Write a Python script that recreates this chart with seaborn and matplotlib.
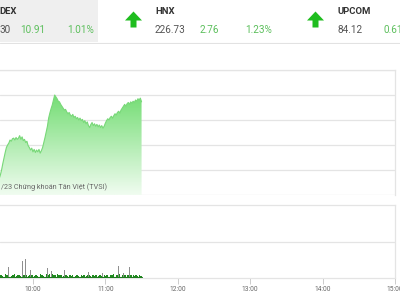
import numpy as np
import pandas as pd
import matplotlib
matplotlib.use("Agg")
import matplotlib.pyplot as plt
from matplotlib.patches import Rectangle
import seaborn as sns

sns.set_style("white")
plt.rcParams['font.family'] = ['Roboto', 'DejaVu Sans']

# ---------------- data ----------------
times = pd.date_range("2023-11-10 09:32", "2023-11-10 11:30", freq="min")

index_values = [
    1078.6, 1079.2, 1080.0, 1081.0, 1081.9, 1082.8, 1083.6, 1084.0, 1084.3, 1084.8,
    1084.6, 1085.0, 1085.1, 1084.8, 1085.2, 1084.9, 1085.1, 1085.5, 1084.9, 1085.3,
    1084.7, 1084.9, 1084.4, 1084.6, 1083.9, 1083.6, 1083.2, 1083.5,
    1082.9, 1083.3, 1082.8, 1083.2, 1082.9, 1083.3, 1082.7, 1083.1, 1083.6, 1084.4,
    1085.2, 1086.1, 1087.0, 1088.3, 1089.1, 1089.8, 1090.4, 1091.2, 1092.0, 1091.7,
    1091.4, 1091.0, 1090.9, 1090.5, 1090.2, 1089.9, 1089.6, 1089.7, 1089.3, 1089.0,
    1089.2, 1088.8, 1088.6, 1088.9, 1088.4, 1088.6, 1088.2, 1088.4, 1088.0, 1088.3,
    1087.9, 1088.1, 1087.6, 1087.9, 1087.4, 1087.7, 1087.1, 1086.8, 1087.3, 1087.6,
    1087.1, 1087.4, 1087.0, 1087.3, 1086.9, 1087.2, 1086.8, 1087.1, 1086.7, 1087.0,
    1087.5, 1087.9, 1088.2, 1088.0, 1088.4, 1088.6, 1088.3, 1088.7, 1089.0, 1088.8,
    1089.2, 1089.4, 1089.1, 1089.6, 1089.9, 1090.2, 1090.5, 1090.2, 1090.6, 1090.8,
    1090.5, 1090.9, 1090.7, 1091.0, 1090.8, 1091.2, 1091.0, 1091.4, 1091.2, 1091.5,
    1090.9,
]

volumes = [
    0.4, 0.35, 0.45, 0.3, 0.4, 0.5, 0.35, 0.4, 1.5, 0.45,
    0.3, 0.4, 0.35, 0.5, 0.3, 0.45, 0.4, 0.35, 0.3, 2.3,
    0.4, 0.35, 2.6, 0.45, 0.3, 0.4, 1.1, 0.35, 0.4, 0.3,
    0.45, 0.35, 0.3, 0.4, 0.5, 0.35, 0.45, 0.3, 0.4, 0.5,
    1.4, 0.45, 0.6, 1.0, 0.5, 0.4, 0.45, 0.35, 0.5, 0.4,
    0.35, 0.45, 0.4, 0.3, 1.1, 0.4, 0.35, 0.3, 0.4, 0.35,
    0.3, 0.4, 0.35, 0.3, 0.45, 0.35, 0.3, 0.4, 0.35, 0.3,
    0.4, 0.35, 0.3, 0.45, 0.8, 0.35, 0.3, 0.4, 0.35, 0.3,
    0.35, 0.4, 0.3, 0.35, 0.45, 0.3, 0.7, 0.35, 0.3, 0.4,
    0.35, 0.3, 0.45, 0.4, 0.35, 0.5, 0.4, 0.35, 0.45, 1.6,
    0.5, 0.4, 0.45, 0.7, 0.4, 0.35, 0.45, 0.4, 1.5, 0.45,
    0.4, 0.35, 0.3, 0.4, 0.35, 0.3, 0.35, 0.3, 0.25,
]

tick_hours = [10, 11, 12, 13, 14, 15]
tick_labels = ["10:00", "11:00", "12:00", "13:00", "14:00", "15:00"]

header_names = ["DEX", "HNX", "UPCOM"]
header_values = ["30", "226.73", "84.12"]
header_changes = ["10.91", "2.76", "0.61"]
header_pcts = ["1.01%", "1.23%", "0.61%"]

# ---------------- figure ----------------
W, H = 400, 300
fig = plt.figure(figsize=(4, 3), dpi=100)
fig.patch.set_facecolor("white")

def px_axes(x0, y0, x1, y1):
    return fig.add_axes([x0 / W, 1 - y1 / H, (x1 - x0) / W, (y1 - y0) / H])

hours = times.hour + times.minute / 60.0
df = pd.DataFrame({"h": hours, "v": index_values, "vol": volumes})

XMIN, XMAX = 9.545, 15.0
YMIN, YMAX = 1076, 1096
grid_c = "#e4e4e4"

# ---- header ----
hdr = px_axes(0, 0, 400, 44)
hdr.set_xlim(0, 400)
hdr.set_ylim(44, 0)
hdr.axis("off")
hdr.add_patch(Rectangle((0, 0), 98, 42, color="#efefef", lw=0))
hdr.axhline(42.5, color="#e2e2e2", lw=0.8)
green_txt = "#5cbf5c"
dark = "#333333"
mid = "#555555"
arrow_c = "#1fbd1f"

name_x = [-1, 155, 337]
val_x = [-1, 155, 337]
chg_x = [20, 200, 384]
pct_x = [67, 245, None]
arrow_x = [None, 133.5, 315.5]
for i in range(3):
    hdr.text(name_x[i], 11, header_names[i], fontsize=6.8, fontweight="bold", color=dark,
             va="center", ha="left")
    hdr.text(val_x[i], 30, header_values[i], fontsize=7.2, color=mid, va="center", ha="left")
    hdr.text(chg_x[i], 30, header_changes[i], fontsize=7.2, color=green_txt, va="center", ha="left")
    if pct_x[i] is not None:
        hdr.text(pct_x[i], 30, header_pcts[i], fontsize=7.2, color=green_txt, va="center", ha="left")
    if arrow_x[i] is not None:
        hdr.arrow(arrow_x[i], 27.5, 0, -7.0, width=6.0, head_width=17, head_length=9,
                  color=arrow_c, lw=0, length_includes_head=False)

# ---- main price chart ----
ax = px_axes(0, 70, 395, 195)
ax.set_xlim(XMIN, XMAX)
ax.set_ylim(YMIN, YMAX)
ax.set_yticks(np.arange(YMIN, YMAX + 1, 4))
ax.set_xticks([])
ax.tick_params(left=False, labelleft=False)
ax.grid(axis="y", color=grid_c, lw=0.9)
for s in ["left", "bottom"]:
    ax.spines[s].set_visible(False)
for s in ["top", "right"]:
    ax.spines[s].set_color(grid_c)
    ax.spines[s].set_linewidth(0.9)

poly = ax.fill_between(df["h"], df["v"], YMIN, color="none", lw=0)
grad = np.zeros((100, 1, 4))
top_c = np.array([112, 220, 112]) / 255
bot_c = np.array([240, 252, 240]) / 255
for i in range(100):
    f = i / 99.0
    grad[i, 0, :3] = top_c * (1 - f) + bot_c * f
    grad[i, 0, 3] = 1
im = ax.imshow(grad, extent=[df["h"].min(), df["h"].max(), YMIN, 1092.5],
               aspect="auto", origin="upper", zorder=1, interpolation="bilinear")
im.set_clip_path(poly.get_paths()[0], transform=ax.transData)
sns.lineplot(data=df, x="h", y="v", ax=ax, color="#78d878", lw=0.8, zorder=2)
ax.set_xlabel("")
ax.set_ylabel("")
ax.set_xlim(XMIN, XMAX)
ax.set_ylim(YMIN, YMAX)
ax.text(0.002, 1077.2, "/23 Chứng khoán Tân Việt (TVSI)", fontsize=5.2, color="#666666",
        ha="left", va="center", transform=ax.get_yaxis_transform(), zorder=3)

# ---- volume chart ----
vx = px_axes(0, 205, 395, 278)
vx.set_xlim(XMIN, XMAX)
vx.set_ylim(0, 10)
vx.set_yticks([5])
vx.tick_params(left=False, labelleft=False)
vx.grid(axis="y", color=grid_c, lw=0.9)
vx.spines["left"].set_visible(False)
for s in ["top", "right", "bottom"]:
    vx.spines[s].set_color(grid_c)
    vx.spines[s].set_linewidth(0.9)
bar_colors = ["#8f8f8f" if v > 0.65 else "#1e8a1e" for v in df["vol"]]
vx.bar(df["h"], df["vol"], width=0.75 / 60, color=bar_colors, lw=0, zorder=2)
vx.plot([df["h"].min(), df["h"].max()], [0.1, 0.1], color="#1e7a1e", lw=0.8, zorder=3)
vx.set_xticks(tick_hours)
vx.set_xticklabels(tick_labels)
vx.tick_params(axis="x", length=4, width=0.7, color="#cccccc", labelsize=4.8,
               labelcolor="#666666", pad=2, bottom=True)

fig.savefig("out.png", dpi=100)
